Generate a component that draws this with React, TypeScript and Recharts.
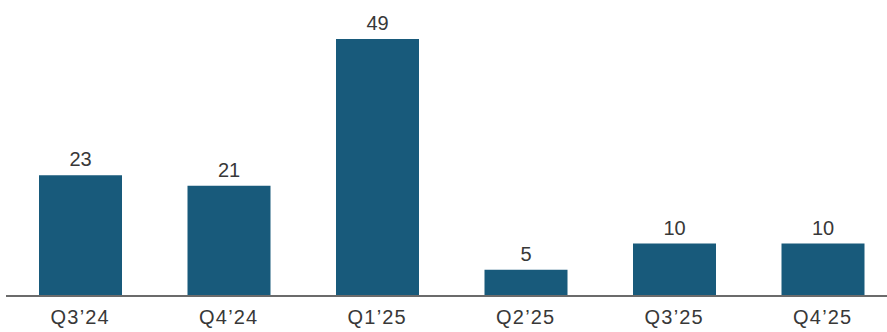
import React from 'react'
import { BarChart, Bar, XAxis, YAxis, LabelList } from 'recharts'

// Quarters and deal counts
const quarters = ['Q3’24', 'Q4’24', 'Q1’25', 'Q2’25', 'Q3’25', 'Q4’25']
const counts = [23, 21, 49, 5, 10, 10]

const data = quarters.map((q, i) => ({ quarter: q, count: counts[i] }))

const font = 'Liberation Sans, Arial, sans-serif'

export default function App() {
  return (
    <div style={{ position: 'absolute', left: 0, top: 0, width: 887, height: 332, overflow: 'hidden', background: '#fff' }}>
      <BarChart
        width={897}
        height={332}
        data={data}
        margin={{ top: 39, right: 0, left: 6, bottom: 0 }}
        barCategoryGap={0}
      >
        <XAxis
          dataKey="quarter"
          height={36}
          axisLine={{ stroke: '#6b6b6b', strokeWidth: 2 }}
          tickLine={false}
          tick={{ fill: '#383838', fontSize: 20, fontFamily: font, letterSpacing: 1.2 }}
          tickMargin={8}
          interval={0}
        />
        <YAxis hide domain={[0, 'dataMax']} />
        <Bar dataKey="count" fill="#185a7b" barSize={83} isAnimationActive={false}>
          <LabelList
            dataKey="count"
            position="top"
            offset={9}
            fill="#383838"
            fontSize={20}
            fontFamily={font}
          />
        </Bar>
      </BarChart>
    </div>
  )
}
